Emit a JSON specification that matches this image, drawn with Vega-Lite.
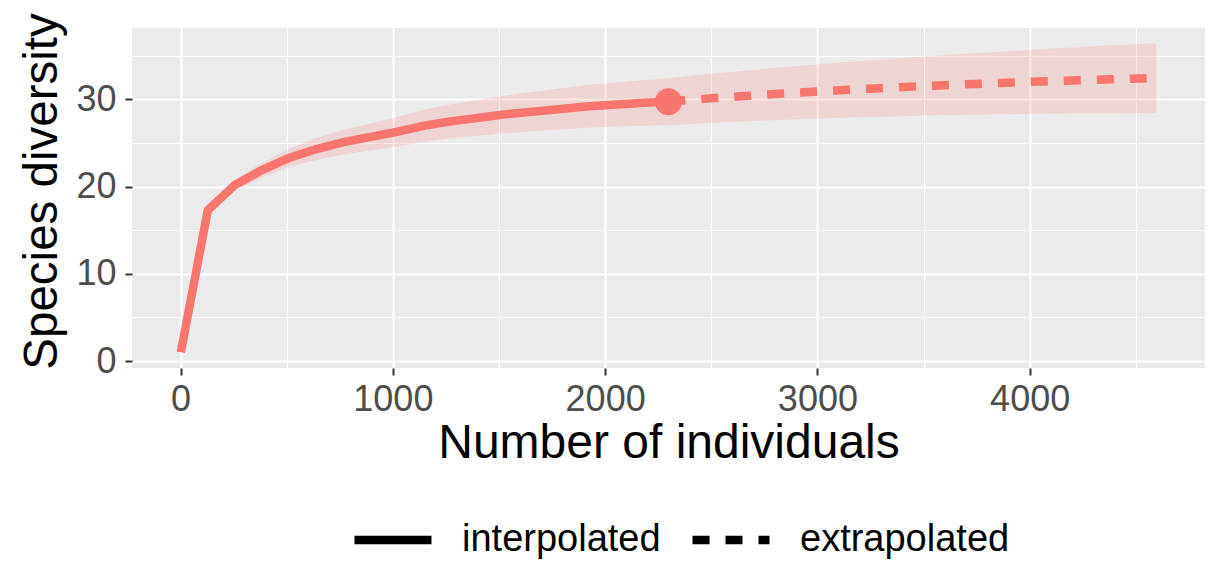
{
  "$schema": "https://vega.github.io/schema/vega-lite/v6.json",
  "width": 1073,
  "height": 340,
  "autosize": {"type": "none"},
  "padding": {"left": 132, "top": 28, "right": 3, "bottom": 203},
  "background": "white",
  "config": {
    "view": {"fill": "#EBEBEB", "stroke": null},
    "font": "Liberation Sans",
    "axis": {"labelFont": "Liberation Sans", "titleFont": "Liberation Sans", "titleFontWeight": "normal", "labelColor": "#4D4D4D", "titleColor": "black", "tickColor": "#333333", "domain": false, "gridColor": "white"},
    "legend": {
      "orient": "none", "legendX": 218, "legendY": 469, "direction": "horizontal",
      "labelFont": "Liberation Sans", "labelFontSize": 38, "labelColor": "black", "labelLimit": 0,
      "symbolType": "stroke", "symbolSize": 5929, "symbolStrokeWidth": 8.5, "symbolStrokeColor": "black",
      "labelOffset": 26, "columnPadding": 14, "padding": 0
    }
  },
  "datasets": {
    "curve": [
      {"m": 1, "qD": 1.0, "lo": 1.0, "hi": 1.0, "method": "interpolated"},
      {"m": 128, "qD": 17.3, "lo": 17.0, "hi": 17.6, "method": "interpolated"},
      {"m": 256, "qD": 20.2, "lo": 19.6, "hi": 20.8, "method": "interpolated"},
      {"m": 383, "qD": 21.9, "lo": 21.05, "hi": 22.75, "method": "interpolated"},
      {"m": 511, "qD": 23.3, "lo": 22.25, "hi": 24.35, "method": "interpolated"},
      {"m": 638, "qD": 24.3, "lo": 23.05, "hi": 25.55, "method": "interpolated"},
      {"m": 766, "qD": 25.1, "lo": 23.7, "hi": 26.5, "method": "interpolated"},
      {"m": 893, "qD": 25.7, "lo": 24.15, "hi": 27.25, "method": "interpolated"},
      {"m": 1021, "qD": 26.3, "lo": 24.6, "hi": 28.0, "method": "interpolated"},
      {"m": 1149, "qD": 27.0, "lo": 25.15, "hi": 28.85, "method": "interpolated"},
      {"m": 1276, "qD": 27.5, "lo": 25.55, "hi": 29.45, "method": "interpolated"},
      {"m": 1404, "qD": 27.9, "lo": 25.85, "hi": 29.95, "method": "interpolated"},
      {"m": 1531, "qD": 28.3, "lo": 26.15, "hi": 30.45, "method": "interpolated"},
      {"m": 1659, "qD": 28.6, "lo": 26.35, "hi": 30.85, "method": "interpolated"},
      {"m": 1786, "qD": 28.9, "lo": 26.55, "hi": 31.25, "method": "interpolated"},
      {"m": 1914, "qD": 29.2, "lo": 26.75, "hi": 31.65, "method": "interpolated"},
      {"m": 2041, "qD": 29.4, "lo": 26.9, "hi": 31.9, "method": "interpolated"},
      {"m": 2169, "qD": 29.6, "lo": 27.0, "hi": 32.2, "method": "interpolated"},
      {"m": 2297, "qD": 29.75, "lo": 27.05, "hi": 32.45, "method": "interpolated"},
      {"m": 2298, "qD": 29.75, "lo": 27.05, "hi": 32.45, "method": "interpolated"},
      {"m": 2298, "qD": 29.75, "lo": 27.05, "hi": 32.45, "method": "extrapolated"},
      {"m": 2299, "qD": 29.75, "lo": 27.05, "hi": 32.45, "method": "extrapolated"},
      {"m": 2419, "qD": 29.98, "lo": 27.21, "hi": 32.75, "method": "extrapolated"},
      {"m": 2540, "qD": 30.2, "lo": 27.36, "hi": 33.04, "method": "extrapolated"},
      {"m": 2661, "qD": 30.4, "lo": 27.49, "hi": 33.31, "method": "extrapolated"},
      {"m": 2782, "qD": 30.6, "lo": 27.63, "hi": 33.57, "method": "extrapolated"},
      {"m": 2903, "qD": 30.78, "lo": 27.74, "hi": 33.82, "method": "extrapolated"},
      {"m": 3024, "qD": 30.95, "lo": 27.84, "hi": 34.06, "method": "extrapolated"},
      {"m": 3145, "qD": 31.11, "lo": 27.93, "hi": 34.29, "method": "extrapolated"},
      {"m": 3266, "qD": 31.26, "lo": 28.01, "hi": 34.51, "method": "extrapolated"},
      {"m": 3387, "qD": 31.41, "lo": 28.09, "hi": 34.73, "method": "extrapolated"},
      {"m": 3507, "qD": 31.54, "lo": 28.16, "hi": 34.92, "method": "extrapolated"},
      {"m": 3628, "qD": 31.67, "lo": 28.22, "hi": 35.12, "method": "extrapolated"},
      {"m": 3749, "qD": 31.79, "lo": 28.27, "hi": 35.31, "method": "extrapolated"},
      {"m": 3870, "qD": 31.9, "lo": 28.31, "hi": 35.49, "method": "extrapolated"},
      {"m": 3991, "qD": 32.01, "lo": 28.35, "hi": 35.67, "method": "extrapolated"},
      {"m": 4112, "qD": 32.11, "lo": 28.38, "hi": 35.84, "method": "extrapolated"},
      {"m": 4233, "qD": 32.2, "lo": 28.41, "hi": 35.99, "method": "extrapolated"},
      {"m": 4354, "qD": 32.29, "lo": 28.43, "hi": 36.15, "method": "extrapolated"},
      {"m": 4475, "qD": 32.38, "lo": 28.45, "hi": 36.31, "method": "extrapolated"},
      {"m": 4596, "qD": 32.46, "lo": 28.46, "hi": 36.46, "method": "extrapolated"}
    ],
    "observed": [
      {"m": 2298, "qD": 29.75}
    ]
  },
  "resolve": {"axis": {"x": "independent", "y": "independent"}},
  "layer": [
    {
      "data": {"name": "curve"},
      "mark": {"type": "area", "color": "#F8766D", "opacity": 0.2},
      "encoding": {
        "x": {"field": "m", "type": "quantitative", "scale": {"domain": [-229, 4826], "nice": false, "zero": false},
          "axis": {"orient": "bottom", "values": [0, 1000, 2000, 3000, 4000], "format": "d", "grid": true, "title": "Number of individuals", "titleFontSize": 48, "labelFontSize": 36, "tickSize": 7, "tickWidth": 2, "gridWidth": 2.2, "labelPadding": 7, "titleBaseline": "alphabetic", "titleX": 536.5, "titleY": 89}},
        "y": {"field": "lo", "type": "quantitative", "scale": {"domain": [-0.8, 38.2], "nice": false, "zero": false},
          "axis": {"orient": "left", "values": [0, 10, 20, 30], "format": "d", "grid": true, "title": "Species diversity", "titleFontSize": 47.5, "labelFontSize": 36, "tickSize": 7, "tickWidth": 2, "gridWidth": 2.2, "labelPadding": 9, "titleBaseline": "alphabetic", "titleX": -76, "titleY": 163}},
        "y2": {"field": "hi"}
      }
    },
    {
      "data": {"name": "curve"},
      "mark": {"type": "line", "color": "#F8766D", "strokeWidth": 8.5, "strokeCap": "butt"},
      "encoding": {
        "x": {"field": "m", "type": "quantitative", "axis": null},
        "y": {"field": "qD", "type": "quantitative", "axis": null},
        "strokeDash": {"field": "method", "type": "nominal",
          "scale": {"domain": ["interpolated", "extrapolated"], "range": [[1, 0], [17, 16]]},
          "legend": {"title": null}},
        "detail": {"field": "method"}
      }
    },
    {
      "data": {"name": "observed"},
      "mark": {"type": "point", "shape": "circle", "filled": true, "color": "#F8766D", "opacity": 1, "size": 729},
      "encoding": {
        "x": {"field": "m", "type": "quantitative",
          "axis": {"orient": "top", "values": [500, 1500, 2500, 3500, 4500], "grid": true, "labels": false, "ticks": false, "title": null, "gridWidth": 1.1}},
        "y": {"field": "qD", "type": "quantitative",
          "axis": {"orient": "right", "values": [5, 15, 25, 35], "grid": true, "labels": false, "ticks": false, "title": null, "gridWidth": 1.1}}
      }
    }
  ]
}
